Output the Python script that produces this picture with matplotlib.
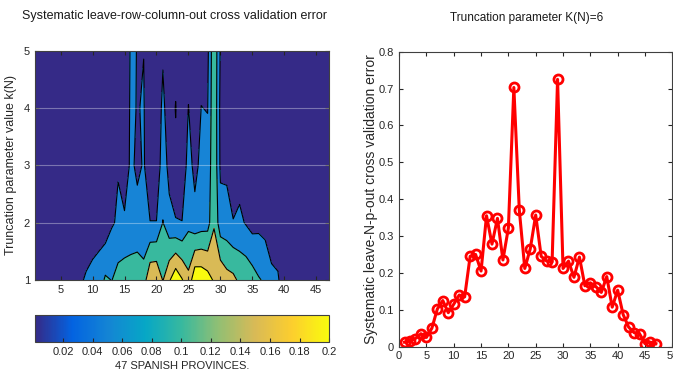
"""Leave-out cross validation error: contour map (k vs province) and K(N)=6 curve."""
import matplotlib
matplotlib.use('Agg')
import matplotlib.pyplot as plt
from matplotlib.colors import LinearSegmentedColormap, Normalize
import matplotlib.cm as cm
import numpy as np

plt.rcParams.update({
    'font.family': ['Liberation Sans', 'DejaVu Sans'],
    'font.size': 8,
    'axes.linewidth': 0.8,
    'xtick.direction': 'in',
    'ytick.direction': 'in',
    'xtick.color': '#262626',
    'ytick.color': '#262626',
})

# ---- left panel data: error per province (columns) for truncation k = 1..5
provinces = np.arange(1, 48)
k_values = [1, 2, 3, 4, 5]
err_k1 = [0.008, 0.010, 0.014, 0.018, 0.022, 0.026, 0.031, 0.036, 0.043, 0.050,
          0.058, 0.086, 0.079, 0.095, 0.100, 0.100, 0.100, 0.100, 0.155, 0.158,
          0.118, 0.155, 0.190, 0.163, 0.130, 0.192, 0.190, 0.178, 0.155, 0.154,
          0.135, 0.130, 0.112, 0.110, 0.098, 0.083, 0.075, 0.050, 0.045, 0.012,
          0.010, 0.008, 0.006, 0.005, 0.004, 0.003, 0.003]
err_k2 = [0.005, 0.006, 0.008, 0.010, 0.012, 0.015, 0.018, 0.025, 0.023, 0.022,
          0.022, 0.014, 0.036, 0.045, 0.048, 0.055, 0.059, 0.045, 0.041, 0.041,
          0.081, 0.052, 0.041, 0.041, 0.071, 0.053, 0.060, 0.063, 0.116, 0.056,
          0.055, 0.042, 0.048, 0.037, 0.026, 0.030, 0.025, 0.015, 0.012, 0.008,
          0.007, 0.006, 0.005, 0.004, 0.003, 0.003, 0.002]
err_k3 = [0.004, 0.004, 0.005, 0.006, 0.008, 0.010, 0.012, 0.018, 0.015, 0.015,
          0.015, 0.010, 0.020, 0.038, 0.010, 0.050, 0.030, 0.044, 0.012, 0.012,
          0.061, 0.028, 0.030, 0.012, 0.055, 0.029, 0.050, 0.050, 0.115, 0.033,
          0.032, 0.012, 0.023, 0.020, 0.016, 0.018, 0.015, 0.010, 0.008, 0.006,
          0.005, 0.004, 0.004, 0.003, 0.002, 0.002, 0.002]
err_k4 = [0.003, 0.003, 0.004, 0.004, 0.005, 0.006, 0.008, 0.012, 0.010, 0.010,
          0.010, 0.007, 0.012, 0.020, 0.008, 0.048, 0.038, 0.043, 0.008, 0.008,
          0.050, 0.015, 0.042, 0.008, 0.041, 0.015, 0.0405, 0.039, 0.115, 0.030,
          0.020, 0.008, 0.012, 0.012, 0.010, 0.011, 0.010, 0.007, 0.006, 0.004,
          0.004, 0.003, 0.003, 0.002, 0.002, 0.001, 0.001]
err_k5 = [0.002, 0.002, 0.003, 0.003, 0.004, 0.004, 0.005, 0.008, 0.007, 0.007,
          0.007, 0.005, 0.008, 0.012, 0.006, 0.046, 0.039, 0.0395, 0.006, 0.006,
          0.035, 0.010, 0.025, 0.006, 0.025, 0.010, 0.030, 0.030, 0.115, 0.036,
          0.012, 0.006, 0.008, 0.008, 0.007, 0.007, 0.007, 0.005, 0.004, 0.003,
          0.003, 0.002, 0.002, 0.002, 0.001, 0.001, 0.001]

# ---- right panel data: K(N)=6 leave-N-p-out error per province
err_k6 = [0.012, 0.015, 0.022, 0.035, 0.025, 0.050, 0.102, 0.125, 0.092, 0.115,
          0.140, 0.135, 0.245, 0.250, 0.205, 0.355, 0.278, 0.348, 0.235, 0.322,
          0.703, 0.370, 0.212, 0.265, 0.357, 0.245, 0.232, 0.230, 0.725, 0.212,
          0.232, 0.188, 0.243, 0.165, 0.173, 0.163, 0.147, 0.190, 0.107, 0.153,
          0.087, 0.053, 0.038, 0.035, 0.008, 0.012, 0.008]

levels = [0, 0.04, 0.08, 0.12, 0.16, 0.25]
fill_colors = ['#352a87', '#1784d6', '#38b99e', '#d9ba56', '#f9fb0e']
parula = LinearSegmentedColormap.from_list('parula', [
    '#352a87', '#0363e1', '#1485d4', '#06a7c6', '#38b99e',
    '#92bf73', '#d9ba56', '#fcce2e', '#f9fb0e'])

fig = plt.figure(figsize=(6.73, 3.83), dpi=100)

# left: filled contour map
ax1 = fig.add_axes([0.052, 0.269, 0.437, 0.598])
Z = np.array([err_k1, err_k2, err_k3, err_k4, err_k5])
ax1.contourf(provinces, k_values, Z, levels=levels, colors=fill_colors)
ax1.contour(provinces, k_values, Z, levels=levels[1:-1], colors='k', linewidths=0.8)
for k in [2, 3, 4]:
    ax1.axhline(k, color='white', alpha=0.35, linewidth=0.8)
ax1.set_xlim(1, 47)
ax1.set_ylim(1, 5)
ax1.set_xticks(range(5, 50, 5))
ax1.set_yticks(k_values)
ax1.tick_params(top=True, right=True, labelsize=8, length=3)
ax1.set_ylabel('Truncation parameter value k(N)', fontsize=9, color='#262626')
ax1.yaxis.set_label_coords(-0.06, 0.5)
for s in ax1.spines.values():
    s.set_color('#404040')
fig.text(175 / 673, 1 - 16 / 383, 'Systematic leave-row-column-out cross validation error',
         ha='center', va='center', fontsize=9, color='#1a1a1a')

# colorbar underneath
cax = fig.add_axes([0.052, 0.107, 0.437, 0.0705])
sm = cm.ScalarMappable(norm=Normalize(0.001, 0.2), cmap=parula)
cb = fig.colorbar(sm, cax=cax, orientation='horizontal')
cb.set_ticks([0.02, 0.04, 0.06, 0.08, 0.1, 0.12, 0.14, 0.16, 0.18, 0.2])
cb.set_ticklabels(['0.02', '0.04', '0.06', '0.08', '0.1', '0.12', '0.14',
                   '0.16', '0.18', '0.2'])
cb.ax.tick_params(labelsize=8, direction='in', length=3, color='#262626')
cb.outline.set_edgecolor('#404040')
cb.set_label('47 SPANISH PROVINCES.', fontsize=8, color='#262626', labelpad=3)

# right: K(N)=6 curve
ax2 = fig.add_axes([0.593, 0.095, 0.406, 0.770])
ax2.plot(provinces, err_k6, color='red', linewidth=2.2, marker='o',
         markersize=6.5, markerfacecolor='none', markeredgewidth=2.0)
ax2.set_xlim(0, 50)
ax2.set_ylim(0, 0.8)
ax2.set_xticks(range(0, 51, 5))
ax2.set_yticks(np.arange(0, 0.81, 0.1))
ax2.set_yticklabels(['0', '0.1', '0.2', '0.3', '0.4', '0.5', '0.6', '0.7', '0.8'])
ax2.tick_params(top=True, right=True, labelsize=8, length=3)
ax2.set_ylabel('Systematic leave-N-p-out cross validation error', fontsize=10,
               color='#262626')
ax2.yaxis.set_label_coords(-0.077, 0.5)
for s in ax2.spines.values():
    s.set_color('#404040')
fig.text(527 / 673, 1 - 18 / 383, 'Truncation parameter K(N)=6',
         ha='center', va='center', fontsize=8.5, color='#1a1a1a')

fig.savefig('out.png', dpi=100)
